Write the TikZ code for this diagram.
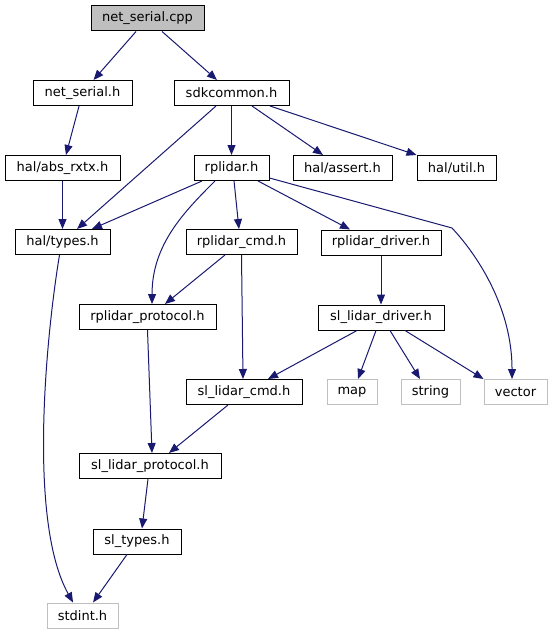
\documentclass[tikz,border=0pt]{standalone}
\usepackage{xcolor}
\usepackage{tikz}
\usepackage{fontspec}
\setmainfont{DejaVu Sans}
\usetikzlibrary{arrows.meta, positioning, calc}
\definecolor{midnight}{HTML}{191970}
\definecolor{boxgray}{HTML}{BFBFBF}
\tikzstyle{file} = [rectangle, draw=black, fill=white, line width=0.75pt, minimum height=18.75pt, inner sep=0pt, font=\fontsize{9.75}{11}\selectfont]
\tikzstyle{mainfile} = [file, fill=boxgray]
\tikzstyle{sysfile} = [file, draw=boxgray]
\tikzstyle{arrow} = [draw=midnight, line width=0.75pt, ->, >={Triangle[length=7.5pt,width=6pt]}]

\begin{document}
\begin{tikzpicture}[x=0.75pt, y=-0.75pt]
    \useasboundingbox (0,0) rectangle (553,635);

    % files
    \node (cpp) [mainfile, minimum width=84.75pt] at (147.5,18.5) {net\_serial.cpp};
    \node (nsh) [file, minimum width=74.25pt] at (82.5,93) {net\_serial.h};
    \node (sdk) [file, minimum width=86.25pt] at (231.5,93) {sdkcommon.h};
    \node (abs) [file, minimum width=86.25pt] at (62.5,168) {hal/abs\_rxtx.h};
    \node (rpl) [file, minimum width=56.25pt] at (231.5,168) {rplidar.h};
    \node (assert) [file, minimum width=74.25pt] at (342.5,168) {hal/assert.h};
    \node (util) [file, minimum width=59.25pt] at (456.5,168) {hal/util.h};
    \node (types) [file, minimum width=71.25pt] at (62.5,242) {hal/types.h};
    \node (rcmd) [file, minimum width=83.25pt] at (241.5,242) {rplidar\_cmd.h};
    \node (rdrv) [file, minimum width=90pt] at (381,242.5) {rplidar\_driver.h};
    \node (rproto) [file, minimum width=102.75pt] at (147.5,317) {rplidar\_protocol.h};
    \node (sldrv) [file, minimum width=94.5pt] at (381,317.5) {sl\_lidar\_driver.h};
    \node (slcmd) [file, minimum width=87pt] at (244,392) {sl\_lidar\_cmd.h};
    \node (map) [sysfile, minimum width=37.5pt] at (352,392) {map};
    \node (string) [sysfile, minimum width=44.25pt] at (430.5,392) {string};
    \node (vector) [sysfile, minimum width=47.25pt] at (515.5,392) {vector};
    \node (slproto) [file, minimum width=106.5pt] at (150,466) {sl\_lidar\_protocol.h};
    \node (sltypes) [file, minimum width=66pt] at (137,541.5) {sl\_types.h};
    \node (stdint) [sysfile, minimum width=53.25pt] at (82.5,615.5) {stdint.h};

    \coordinate (vbend) at (452,228);

    % includes
    \draw[arrow] ([xshift=-8.6pt]cpp.south) -- ([xshift=8.25pt]nsh.north);
    \draw[arrow] ([xshift=10.9pt]cpp.south) -- ([xshift=-10.9pt]sdk.north);
    \draw[arrow] ([xshift=-2.6pt]nsh.south) -- ([xshift=2.6pt]abs.north);
    \draw[arrow] ([xshift=-11.6pt]sdk.south) -- ([xshift=10.9pt]types.north);
    \draw[arrow] (sdk.south) -- (rpl.north);
    \draw[arrow] ([xshift=15.4pt]sdk.south) -- ([xshift=-14.6pt]assert.north);
    \draw[arrow] ([xshift=28.9pt]sdk.south) -- (util.north west);
    \draw[arrow] (abs.south) -- (types.north);
    \draw[arrow] ([xshift=-22.1pt]rpl.south) -- ([xshift=22.1pt]types.north);
    \draw[arrow] ([xshift=-12.4pt]rpl.south) .. controls (185,211) and (152,244) .. ([xshift=3.4pt]rproto.north);
    \draw[arrow] ([xshift=1.9pt]rpl.south) -- ([xshift=-1.9pt]rcmd.north);
    \draw[arrow] ([xshift=19.9pt]rpl.south) -- ([xshift=-23.25pt]rdrv.north);
    \draw[arrow] ([yshift=-7.5pt]rpl.east) -- (vbend) .. controls (480,258) and (512,310) .. ([xshift=-2.6pt]vector.north);
    \draw[arrow] ([xshift=-12.4pt]rcmd.south) -- ([xshift=13.1pt]rproto.north);
    \draw[arrow] (rcmd.south) -- ([xshift=-0.75pt]slcmd.north);
    \draw[arrow] (rdrv.south) -- (sldrv.north);
    \draw[arrow] (rproto.south) -- ([xshift=1.5pt]slproto.north);
    \draw[arrow] ([xshift=-18pt]sldrv.south) -- ([xshift=18pt]slcmd.north);
    \draw[arrow] ([xshift=-3.75pt]sldrv.south) -- ([xshift=4.5pt]map.north);
    \draw[arrow] ([xshift=6.75pt]sldrv.south) -- ([xshift=-7.9pt]string.north);
    \draw[arrow] ([xshift=18pt]sldrv.south) -- (vector.north west);
    \draw[arrow] ([xshift=-12pt]slcmd.south) -- ([xshift=14.25pt]slproto.north);
    \draw[arrow] ([xshift=-1.5pt]slproto.south) -- ([xshift=3.75pt]sltypes.north);
    \draw[arrow] ([xshift=-7.5pt]sltypes.south) -- ([xshift=7.9pt]stdint.north);
    \draw[arrow] ([xshift=-2.25pt]types.south) .. controls (47,330) and (27,520) .. ([xshift=-7.1pt]stdint.north);
\end{tikzpicture}
\end{document}
